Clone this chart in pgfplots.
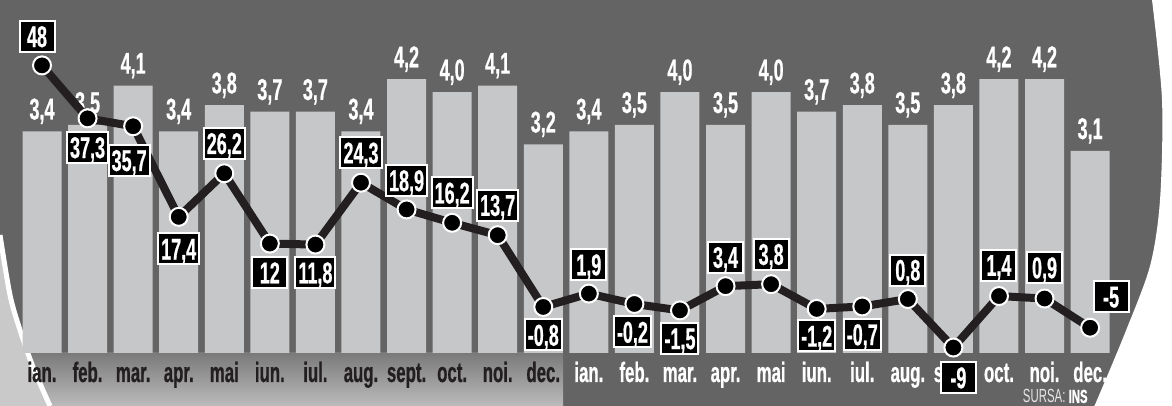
\documentclass[border=0pt]{standalone}
\usepackage{pgfplots}
\pgfplotsset{compat=1.18}
\usepackage{pgfplotstable}
\usepackage{fontspec}
\setmainfont{Liberation Sans}[FakeStretch=0.6, BoldFeatures={FakeBold=0.6}]

\definecolor{bg}{HTML}{646464}
\definecolor{barc}{HTML}{C6C7C9}
\definecolor{ink}{HTML}{231F20}
\definecolor{lite}{HTML}{C9C9C9}
\definecolor{bandtop}{HTML}{7A7A7A}
\definecolor{bandbot}{HTML}{BBBBBB}

% bar values (columns)
\pgfplotstableread{
x v
0 3.4
1 3.5
2 4.1
3 3.4
4 3.8
5 3.7
6 3.7
7 3.4
8 4.2
9 4.0
10 4.1
11 3.2
12 3.4
13 3.5
14 4.0
15 3.5
16 4.0
17 3.7
18 3.8
19 3.5
20 3.8
21 4.2
22 4.2
23 3.1
}\bars

% line values, label offsets in px
\pgfplotstableread{
x v dx dy
0 48 -5 29
1 37.3 0 -29
2 35.7 -4 -34
3 17.4 0 -32
4 26.2 0 30
5 12 0 -29
6 11.8 0 -28
7 24.3 0 30
8 18.9 0 29
9 16.2 0 30
10 13.7 0 30
11 -0.8 0 -28
12 1.9 0 29
13 -0.2 -2 -28
14 -1.5 0 -28
15 3.4 0 29
16 3.8 0 30
17 -1.2 0 -27
18 -0.7 0 -28
19 0.8 0 29
20 -9 5 -30
21 1.4 0 31
22 0.9 0 31
23 -5 21 31
}\linedata

\begin{document}
\begin{tikzpicture}
\useasboundingbox (0,0) rectangle (586pt,203pt);

% background, in pixel units from top-left
\begin{scope}[shift={(0,203pt)}, x=0.5pt, y=-0.5pt]
\fill[bg] (0,0) rectangle (1172,406);
\shade[top color=bandtop, bottom color=bandbot] (0,353) rectangle (563,406);
\fill[lite] plot[smooth] coordinates {(0,235) (10,295) (20,330) (33,367) (50,406)} -- (0,406) -- cycle;
\draw[white, line width=2.5pt] plot[smooth] coordinates {(0,235) (10,295) (20,330) (33,367) (50,406)};
\fill[white] plot[smooth] coordinates {(1152,0) (1162,100) (1160,200) (1150,266) (1125,333) (1097,400) (1094,406)} -- (1172,406) -- (1172,0) -- cycle;
\node[anchor=base east, inner sep=0pt, font=\fontsize{9.5}{10}\selectfont] at (1088,403)
  {\textcolor{white!90!black}{SURSA:} \textcolor{white}{\bfseries INS}};
\end{scope}

\begin{axis}[at={(0,0)}, anchor=south west, width=586pt, height=203pt, scale only axis,
  xmin=-0.9217, xmax=24.797, ymin=-0.813, ymax=5.414, clip=false,
  axis line style={draw=none}, tick style={draw=none}, ytick=\empty,
  xtick={0,...,23},
  xticklabels={ian.,feb.,mar.,apr.,mai,iun.,iul.,aug.,sept.,oct.,noi.,dec.,
    \color{white}ian.,\color{white}feb.,\color{white}mar.,\color{white}apr.,\color{white}mai,\color{white}iun.,
    \color{white}iul.,\color{white}aug.,\color{white}sept.,\color{white}oct.,\color{white}noi.,\color{white}dec.},
  xticklabel style={anchor=base, yshift=12pt, text=ink, font=\bfseries\fontsize{14}{16}\selectfont}]
\addplot[ybar, bar width=19.5pt, fill=barc, draw=none,
  nodes near coords,
  nodes near coords style={anchor=center, yshift=10pt, text=white, font=\bfseries\fontsize{15}{16}\selectfont,
    /pgf/number format/.cd, use comma, fixed, fixed zerofill, precision=1, assume math mode=true}]
  table[x=x, y=v] {\bars};
\end{axis}

\begin{axis}[at={(0,0)}, anchor=south west, width=586pt, height=203pt, scale only axis,
  xmin=-0.9217, xmax=24.797, ymin=-20.81, ymax=61.21, clip=false,
  axis line style={draw=none}, tick style={draw=none}, ytick=\empty, xtick=\empty]
\addplot[ink, line width=4pt, mark=*, mark size=4.5pt,
  mark options={fill=black, draw=white, line width=1pt},
  visualization depends on={\thisrow{dx} \as \ldx},
  visualization depends on={\thisrow{dy} \as \ldy},
  nodes near coords,
  nodes near coords style={anchor=center, xshift=\ldx*0.5pt, yshift=\ldy*0.5pt,
    fill=black, draw=white, line width=1pt, text=white, minimum width=17.5pt,
    inner xsep=1.5pt, inner ysep=2.4pt, text height=10.7pt, text depth=0pt,
    font=\bfseries\fontsize{15}{16}\selectfont,
    /pgf/number format/.cd, use comma, fixed, precision=1, assume math mode=true}]
  table[x=x, y=v] {\linedata};
\end{axis}
\end{tikzpicture}
\end{document}
